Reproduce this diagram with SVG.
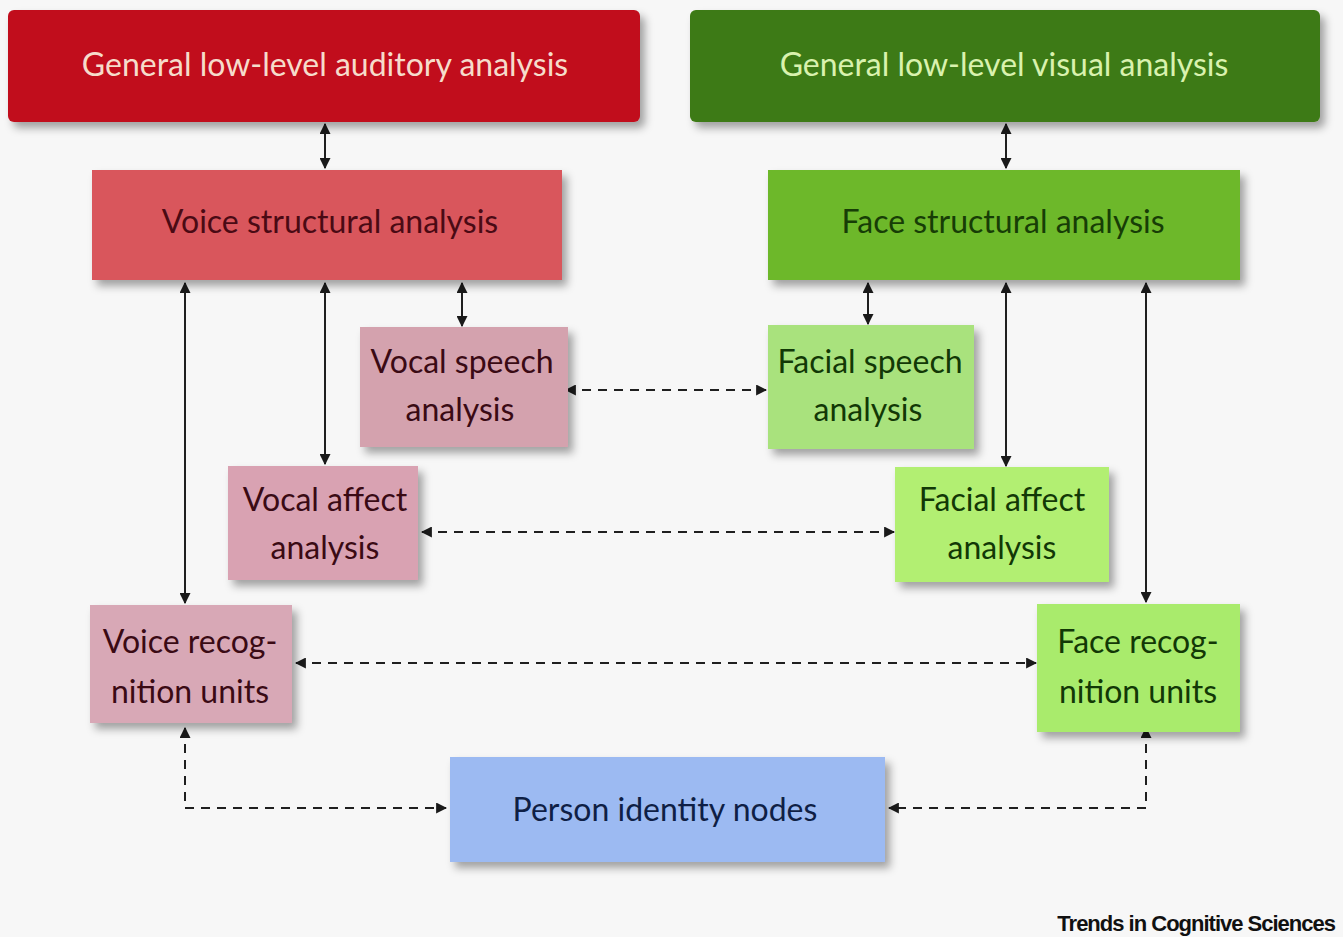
<svg xmlns="http://www.w3.org/2000/svg" width="1343" height="937" viewBox="0 0 1343 937">
<defs>
<filter id="sh" x="-10%" y="-10%" width="125%" height="135%">
<feDropShadow dx="5" dy="6" stdDeviation="4" flood-color="#000" flood-opacity="0.35"/>
</filter>
<marker id="ah" viewBox="0 0 10 10" refX="9" refY="5" markerWidth="5.5" markerHeight="5.5" orient="auto-start-reverse">
<path d="M0,0 L10,5 L0,10 z" fill="#1a1a1a"/>
</marker>
</defs>
<style>
.t{font-family:Lato,"Open Sans","Liberation Sans",sans-serif;font-size:32px;text-anchor:middle;dominant-baseline:central}
.s{stroke:#1f1f1f;stroke-width:2;fill:none}
.d{stroke:#1f1f1f;stroke-width:2;fill:none;stroke-dasharray:9,7}
</style>
<rect width="1343" height="937" fill="#f7f7f7"/>

<g id="connectors">
<line class="s" x1="325" y1="124" x2="325" y2="168" marker-start="url(#ah)" marker-end="url(#ah)"/>
<line class="s" x1="1006" y1="124" x2="1006" y2="168" marker-start="url(#ah)" marker-end="url(#ah)"/>
<line class="s" x1="185" y1="283" x2="185" y2="603" marker-start="url(#ah)" marker-end="url(#ah)"/>
<line class="s" x1="325" y1="283" x2="325" y2="464" marker-start="url(#ah)" marker-end="url(#ah)"/>
<line class="s" x1="462" y1="283" x2="462" y2="326" marker-start="url(#ah)" marker-end="url(#ah)"/>
<line class="s" x1="868" y1="283" x2="868" y2="324" marker-start="url(#ah)" marker-end="url(#ah)"/>
<line class="s" x1="1006" y1="283" x2="1006" y2="466" marker-start="url(#ah)" marker-end="url(#ah)"/>
<line class="s" x1="1146" y1="283" x2="1146" y2="602" marker-start="url(#ah)" marker-end="url(#ah)"/>
<line class="d" x1="566" y1="390" x2="766" y2="390" marker-start="url(#ah)" marker-end="url(#ah)"/>
<line class="d" x1="422" y1="532" x2="894" y2="532" marker-start="url(#ah)" marker-end="url(#ah)"/>
<line class="d" x1="296" y1="663" x2="1036" y2="663" marker-start="url(#ah)" marker-end="url(#ah)"/>
<polyline class="d" points="185,728 185,808 446,808" marker-start="url(#ah)" marker-end="url(#ah)"/>
<polyline class="d" points="1146,728 1146,808 889,808" marker-start="url(#ah)" marker-end="url(#ah)"/>
</g>

<g id="auditory">
<rect x="8" y="10" width="632" height="112" rx="6" fill="#c10f1f" filter="url(#sh)"/>
<text class="t" x="325" y="63" fill="#f6dccb">General low-level auditory analysis</text>
</g>
<g id="visual">
<rect x="690" y="10" width="630" height="112" rx="6" fill="#3c7a12" filter="url(#sh)"/>
<text class="t" x="1004" y="63" fill="#d9f2ae">General low-level visual analysis</text>
</g>
<g id="voice-structural">
<rect x="92" y="170" width="470" height="110" fill="#d9575c" filter="url(#sh)"/>
<text class="t" x="330" y="220" fill="#4a0a14">Voice structural analysis</text>
</g>
<g id="face-structural">
<rect x="768" y="170" width="472" height="110" fill="#6db82b" filter="url(#sh)"/>
<text class="t" x="1003" y="220" fill="#173d06">Face structural analysis</text>
</g>
<g id="vocal-speech">
<rect x="360" y="327" width="208" height="120" fill="#d4a2ae" filter="url(#sh)"/>
<text class="t" x="462" y="360" fill="#3a0a14">Vocal speech</text>
<text class="t" x="460" y="408" fill="#3a0a14">analysis</text>
</g>
<g id="facial-speech">
<rect x="768" y="325" width="206" height="124" fill="#a9e27d" filter="url(#sh)"/>
<text class="t" x="870" y="360" fill="#123806">Facial speech</text>
<text class="t" x="868" y="408" fill="#123806">analysis</text>
</g>
<g id="vocal-affect">
<rect x="228" y="466" width="190" height="114" fill="#d9a2b2" filter="url(#sh)"/>
<text class="t" x="325" y="498" fill="#3a0a14">Vocal affect</text>
<text class="t" x="325" y="546" fill="#3a0a14">analysis</text>
</g>
<g id="facial-affect">
<rect x="895" y="467" width="214" height="115" fill="#b2ef72" filter="url(#sh)"/>
<text class="t" x="1002" y="498" fill="#123806">Facial affect</text>
<text class="t" x="1002" y="546" fill="#123806">analysis</text>
</g>
<g id="voice-recognition">
<rect x="90" y="605" width="202" height="118" fill="#d8a8b6" filter="url(#sh)"/>
<text class="t" x="190" y="640" fill="#3a0a14">Voice recog-</text>
<text class="t" x="190" y="690" fill="#3a0a14">nition units</text>
</g>
<g id="face-recognition">
<rect x="1037" y="604" width="203" height="128" fill="#a9eb6c" filter="url(#sh)"/>
<text class="t" x="1138" y="640" fill="#123806">Face recog-</text>
<text class="t" x="1138" y="690" fill="#123806">nition units</text>
</g>
<g id="person-identity">
<rect x="450" y="757" width="435" height="105" fill="#9cbaf2" filter="url(#sh)"/>
<text class="t" x="665" y="808" fill="#0f1f45">Person identity nodes</text>
</g>
<text x="1335" y="931" font-family="'Liberation Sans',Arial,sans-serif" font-size="22" font-weight="bold" text-anchor="end" fill="#111" letter-spacing="-1">Trends in Cognitive Sciences</text>
</svg>
